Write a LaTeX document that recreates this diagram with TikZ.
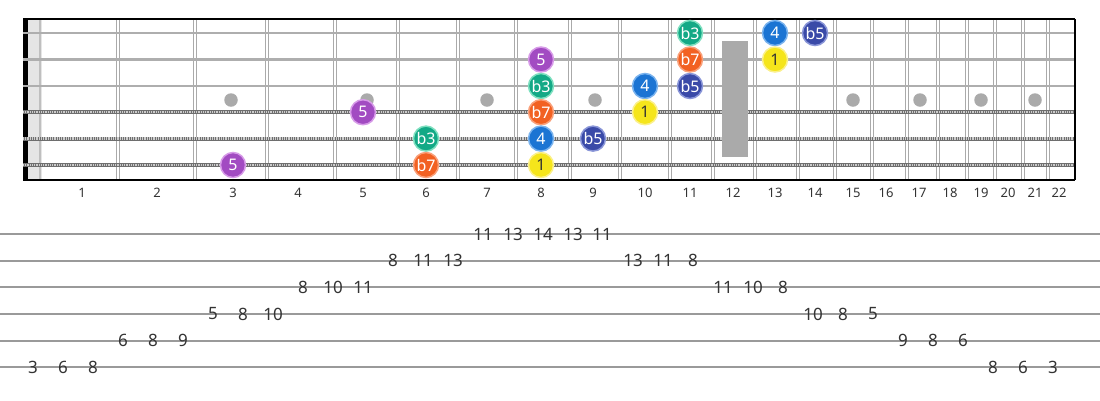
\documentclass[tikz,border=0pt]{standalone}
\usepackage{fontspec}
\setmainfont{Noto Sans}
\definecolor{cY}{HTML}{F5E51B}\definecolor{cYr}{HTML}{FBF08A}
\definecolor{cB}{HTML}{1B74D3}\definecolor{cBr}{HTML}{7AB3EE}
\definecolor{cI}{HTML}{3A4AA8}\definecolor{cIr}{HTML}{8A96D8}
\definecolor{cG}{HTML}{13A986}\definecolor{cGr}{HTML}{7FE0C0}
\definecolor{cO}{HTML}{F26122}\definecolor{cOr}{HTML}{F9A07A}
\definecolor{cP}{HTML}{A24BC2}\definecolor{cPr}{HTML}{D79BE8}
\definecolor{fretc}{HTML}{AAAAAA}
\definecolor{strc}{HTML}{AEAEAE}
\definecolor{woundc}{HTML}{6E6E6E}
\definecolor{tabc}{HTML}{9A9A9A}
\definecolor{txtc}{HTML}{333333}
\tikzset{
  note/.style={circle, minimum size=25pt, inner sep=0pt, line width=1.5pt,
    font=\fontsize{16}{16}\selectfont, text=white},
  nA/.style={note, fill=cY, draw=cYr, text=txtc},
  nB/.style={note, fill=cB, draw=cBr},
  nI/.style={note, fill=cI, draw=cIr},
  nG/.style={note, fill=cG, draw=cGr},
  nO/.style={note, fill=cO, draw=cOr},
  nP/.style={note, fill=cP, draw=cPr},
  fretline/.style={fretc, line width=1.2pt},
  plainstr/.style={strc, line width=2.8pt},
  woundbase/.style={woundc, line width=3.8pt},
  woundtick/.style={white!80!black, line width=2.4pt, dash pattern=on 0.8pt off 1pt},
  inlay/.style={circle, fill=fretc, minimum size=13.5pt, inner sep=0pt},
  fretnum/.style={font=\fontsize{13}{13}\selectfont, text=txtc},
  tabline/.style={tabc, line width=2pt},
  tabnum/.style={font=\fontsize{17}{17}\selectfont, text=txtc, inner sep=0pt},
}
\begin{document}
\begin{tikzpicture}[x=1pt,y=-1pt]
\useasboundingbox (0,0) rectangle (1100,400);
% light zone near nut
\fill[white!90!black] (28,19) rectangle (42,180);
\draw[white!75!black, line width=2pt] (40,19) -- (40,180);
% frets (double lines)
\foreach \f in {118,195,267,335,398,458,516,570,620,670,713,755,798,835,872,907,938,967,995,1023,1048}{
  \draw[fretline] (\f-1.7,19) -- (\f-1.7,180);
  \draw[fretline] (\f+1.7,19) -- (\f+1.7,180);
}
% nut
\fill[black] (23,19) rectangle (27.5,180);
% inlays
\foreach \x/\n in {231/3,367/5,487/7,595/9,853/15,920/17,981/19,1035/21}{
  \node[inlay] (dot\n) at (\x,100) {};
}
% strings
\foreach \y/\s in {33/1,59.5/2,86/3}{
  \draw[plainstr] (23,\y) coordinate (sL\s) -- (1075,\y) coordinate (sR\s);
}
\foreach \y/\s in {112.2/4,138.6/5,165/6}{
  \draw[woundbase] (23,\y) coordinate (sL\s) -- (1075,\y) coordinate (sR\s);
  \draw[woundtick] (sL\s) -- (sR\s);
}
% 12th fret marker
\fill[fretc] (722,41) rectangle (748,157);
% border
\draw[black, line width=2pt] (23,19) -- (1075,19);
\draw[black, line width=2pt] (23,180) -- (1075,180);
\draw[black, line width=2pt] (1075,19) -- (1075,180);
% fret numbers
\foreach \x/\n in {82/1,157/2,233/3,298/4,363/5,426/6,487/7,541/8,593/9,645/10,690/11,733/12,775/13,815/14,853/15,886/16,919/17,950/18,981/19,1008/20,1035/21,1059/22}{
  \node[fretnum] (fn\n) at (\x,193) {\n};
}
% notes
\node[nG] (n11) at (690,33) {b3};
\node[nB] (n12) at (775,33) {4};
\node[nI] (n13) at (815,33) {b5};
\node[nP] (n21) at (541,59.5) {5};
\node[nO] (n22) at (690,59.5) {b7};
\node[nA] (n23) at (775,59.5) {1};
\node[nG] (n31) at (541,86) {b3};
\node[nB] (n32) at (645,86) {4};
\node[nI] (n33) at (690,86) {b5};
\node[nP] (n41) at (363,112.2) {5};
\node[nO] (n42) at (541,112.2) {b7};
\node[nA] (n43) at (645,112.2) {1};
\node[nG] (n51) at (426,138.6) {b3};
\node[nB] (n52) at (541,138.6) {4};
\node[nI] (n53) at (593,138.6) {b5};
\node[nP] (n61) at (233,165) {5};
\node[nO] (n62) at (426,165) {b7};
\node[nA] (n63) at (541,165) {1};
% tab lines
\foreach \y/\s in {234/1,260.7/2,287.3/3,314/4,340.7/5,367.3/6}{
  \draw[tabline] (0,\y) coordinate (tL\s) -- (1100,\y) coordinate (tR\s);
}
% tab numbers
\foreach \x/\t [count=\i] in {483/11,513/13,543/14,573/13,602/11}{\node[tabnum] (ta\i) at (\x,234) {\t};}
\foreach \x/\t [count=\i] in {393/8,423/11,453/13,633/13,663/11,693/8}{\node[tabnum] (tb\i) at (\x,260.7) {\t};}
\foreach \x/\t [count=\i] in {303/8,333/10,363/11,723/11,753/10,783/8}{\node[tabnum] (tc\i) at (\x,287.3) {\t};}
\foreach \x/\t [count=\i] in {213/5,243/8,273/10,813/10,843/8,873/5}{\node[tabnum] (td\i) at (\x,314) {\t};}
\foreach \x/\t [count=\i] in {123/6,153/8,183/9,903/9,933/8,963/6}{\node[tabnum] (te\i) at (\x,340.7) {\t};}
\foreach \x/\t [count=\i] in {33/3,63/6,93/8,993/8,1023/6,1053/3}{\node[tabnum] (tf\i) at (\x,367.3) {\t};}
\end{tikzpicture}
\end{document}
